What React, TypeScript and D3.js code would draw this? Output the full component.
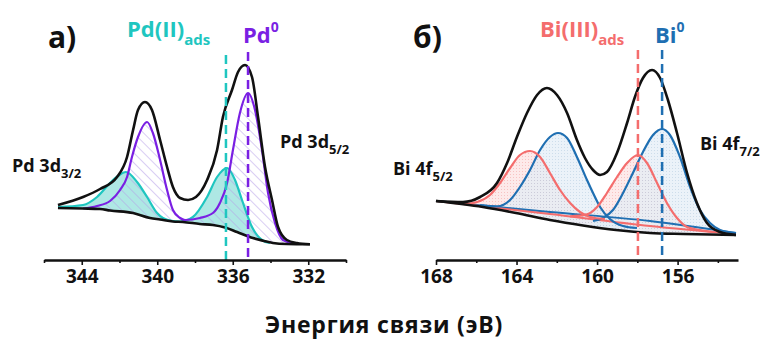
import React, { useEffect, useRef } from 'react';
import * as d3 from 'd3';

type P = [number, number]; // [binding energy eV, intensity a.u.]

// ---------- Panel а) Pd 3d ----------
const pdTicks = [346, 344, 342, 340, 338, 336, 334, 332, 330];
const pdBackground: P[] = [
  [345.26, 26], [343.93, 25.75], [343.03, 25.5], [342.5, 24.75], [341.28, 23.5], [340.38, 21],
  [339.85, 20.25], [339.17, 19.25], [338.64, 19], [337.74, 18], [337.05, 17.5], [336.41, 16.25],
  [335.77, 14], [334.93, 11], [334.4, 9.65], [333.87, 8.5], [333.13, 8], [331.91, 7.85],
];
const pdEnvelope: P[] = [
  [345.26, 27.5], [343.93, 31.5], [343.03, 35.5], [342.13, 41.5], [341.6, 51.5], [341.28, 65],
  [341.02, 75], [340.65, 79], [340.28, 75], [339.85, 60], [339.48, 46.5], [339.17, 36.5],
  [338.79, 31], [338.37, 30], [337.95, 31.5], [337.36, 40], [336.83, 55], [336.52, 71.5],
  [336.04, 85], [335.72, 94], [335.35, 97.5], [334.98, 91.5], [334.66, 71.5], [334.29, 46.5],
  [333.92, 30], [333.6, 16.5], [333.13, 10], [332.6, 8.5], [331.91, 7.85],
];
const pdMetal: P[] = [
  [343.93, 25.75], [343.19, 27], [342.5, 29.5], [341.97, 35], [341.6, 41.5], [341.34, 51.5],
  [341.02, 61.5], [340.54, 69], [340.23, 63.5], [339.85, 50], [339.48, 35], [339.17, 25],
  [338.79, 21], [338.53, 20], [337.74, 21], [337.05, 23.5], [336.68, 28.5], [336.3, 38.5],
  [335.99, 55], [335.62, 73.5], [335.19, 83.5], [334.82, 75], [334.45, 55], [334.13, 33.5],
  [333.76, 18.5], [333.34, 10], [332.86, 8.5],
];
const pdAds: P[] = [
  [345.26, 26.5], [343.93, 27.5], [343.19, 31.5], [342.5, 38.5], [342.08, 42], [341.66, 44],
  [341.07, 39], [340.54, 31.5], [340.01, 23.5], [339.7, 21], [339.17, 19.5], [338.79, 19.25],
  [338.11, 21.5], [337.36, 31.5], [336.83, 41.5], [336.3, 46], [335.88, 40], [335.51, 30],
  [334.98, 16.5], [334.45, 10], [334.03, 8.5],
];
const pdAdsPos = 336.36;
const pdMetalPos = 335.19;

// ---------- Panel б) Bi 4f ----------
const biTicks = [168, 166, 164, 162, 160, 158, 156, 154];
const biBackground: P[] = [
  [168, 29.5], [165.67, 26.5], [164.03, 23.5], [162.34, 20], [160.7, 17.25], [159.06, 15],
  [157.37, 13.5], [155.73, 13], [153.1, 12.5],
];
const biEnvelope: P[] = [
  [168, 29.5], [166.66, 29], [165.81, 31.5], [164.97, 38.5], [164.47, 48.5], [163.98, 61.5],
  [163.48, 73.5], [162.98, 82.5], [162.49, 86], [161.99, 82.5], [161.49, 73.5], [161, 60],
  [160.6, 51], [160.2, 45], [159.85, 42.5], [159.51, 44], [159.01, 53.5], [158.51, 68.5],
  [158.12, 81.5], [157.72, 91], [157.27, 95], [156.87, 91], [156.48, 80], [156.03, 63.5],
  [155.53, 43.5], [155.04, 28.5], [154.54, 18.5], [153.89, 14], [153.1, 12.5],
];
const biAdsLine: P[] = [[168, 29.5], [162.34, 23], [157.37, 17], [153.1, 13]];
const biMetalLine: P[] = [[168, 29.5], [162.34, 24], [157.37, 19.5], [153.1, 13.5]];
const biAds52: P[] = [
  [166.66, 28], [165.96, 29], [165.32, 32.5], [164.82, 38.5], [164.32, 46], [163.83, 52.5],
  [163.33, 54.5], [162.83, 51.5], [162.34, 43.5], [161.84, 35], [161.34, 28.5], [160.85, 24],
  [160.35, 21.5], [159.61, 20.5],
];
const biAds72: P[] = [
  [161.34, 21.8], [160.5, 22.8], [160, 26.5], [159.51, 33.5], [159.01, 41.5], [158.51, 48.5],
  [157.97, 52.5], [157.52, 48.5], [157.02, 38.5], [156.53, 28.5], [156.03, 21], [155.53, 16.5],
  [154.89, 15], [154.14, 14],
];
const biMetal52: P[] = [
  [165.81, 27.4], [164.97, 26.8], [164.32, 30], [163.83, 36.5], [163.33, 45], [162.83, 55],
  [162.34, 61.5], [161.94, 63.5], [161.49, 61], [161, 51.5], [160.5, 40], [160.2, 33.5],
  [159.85, 26.5], [159.36, 20.5], [158.71, 17], [158.02, 16],
];
const biMetal72: P[] = [
  [160.2, 19.5], [159.71, 21], [159.21, 25], [158.71, 33.5], [158.22, 43.5], [157.72, 54],
  [157.22, 62.5], [156.77, 65.5], [156.38, 62.5], [155.88, 51.5], [155.38, 36.5], [154.89, 25],
  [154.39, 18.5], [153.89, 15], [153.1, 13.5],
];
const biAdsPos = 157.97;
const biMetalPos = 156.77;

const FONT = "'Open Sans', 'DejaVu Sans', sans-serif";
const CYAN = '#1fc6c0';
const PURPLE = '#7a1fe3';
const RED = '#f46d6d';
const BLUE = '#1f6fb2';
const INK = '#111';

const AXIS_Y = 260;
const yScale = d3.scaleLinear().domain([0, 100]).range([AXIS_Y, 60]);
const xA = d3.scaleLinear().domain([346, 330]).range([44, 346]);
const xB = d3.scaleLinear().domain([168, 153]).range([436, 738]);

function interpAt(arr: P[], e: number): number {
  const s = [...arr].sort((a, b) => a[0] - b[0]);
  if (e <= s[0][0]) return s[0][1];
  if (e >= s[s.length - 1][0]) return s[s.length - 1][1];
  for (let i = 0; i < s.length - 1; i++) {
    if (e >= s[i][0] && e <= s[i + 1][0]) {
      const t = (e - s[i][0]) / (s[i + 1][0] - s[i][0]);
      return s[i][1] + t * (s[i + 1][1] - s[i][1]);
    }
  }
  return s[0][1];
}

function linePath(x: d3.ScaleLinear<number, number>, pts: P[]) {
  return d3.line<P>().x(d => x(d[0])).y(d => yScale(d[1])).curve(d3.curveMonotoneX)(pts) || '';
}
function areaPath(x: d3.ScaleLinear<number, number>, pts: P[], base: P[]) {
  return d3.area<P>()
    .x(d => x(d[0]))
    .y1(d => yScale(d[1]))
    .y0(d => yScale(Math.min(d[1], interpAt(base, d[0]))))
    .curve(d3.curveMonotoneX)(pts) || '';
}

function Axis({ x, ticks }: { x: d3.ScaleLinear<number, number>; ticks: number[] }) {
  const ref = useRef<SVGGElement>(null);
  useEffect(() => {
    if (!ref.current) return;
    const g = d3.select(ref.current);
    g.selectAll('*').remove();
    g.call(
      d3.axisBottom(x).tickValues(ticks).tickSize(5).tickSizeOuter(0).tickPadding(5)
        .tickFormat(d => ((d as number) % 4 === 0 ? String(d) : ''))
    );
    g.select('.domain').attr('stroke', INK).attr('stroke-width', 2.5);
    g.selectAll('.tick line').attr('stroke', INK).attr('stroke-width', 1.6)
      .attr('y2', (d: any) => (d % 4 === 0 ? 5 : 3));
    g.selectAll('.tick text').attr('fill', INK).attr('font-size', 19)
      .attr('font-weight', 700).attr('font-family', FONT);
  }, [x, ticks]);
  return <g ref={ref} transform={`translate(0,${AXIS_Y})`} />;
}

export default function App() {
  const t = { fontFamily: FONT, fontWeight: 700 } as const;
  const dash = (px: number, color: string, top: number, bottom: number) => (
    <line x1={px} x2={px} y1={top} y2={bottom} stroke={color} strokeWidth={2.5} strokeDasharray="9,5" />
  );
  return (
    <svg width={766} height={340} viewBox="0 0 766 340"
      style={{ position: 'absolute', left: 0, top: 0, background: '#fff' }}>
      <defs>
        <pattern id="hatch" width="7" height="7" patternUnits="userSpaceOnUse" patternTransform="rotate(-45)">
          <line x1="0" y1="0" x2="0" y2="7" stroke="#b39be8" strokeWidth="1" />
        </pattern>
        <pattern id="dotsRed" width="3" height="3" patternUnits="userSpaceOnUse">
          <rect width="3" height="3" fill="#fde6e6" />
          <rect width="1" height="1" fill="#f6b8b8" />
        </pattern>
        <pattern id="dotsBlue" width="3" height="3" patternUnits="userSpaceOnUse">
          <rect width="3" height="3" fill="#e2edf6" />
          <rect width="1" height="1" fill="#b8cfe3" />
        </pattern>
      </defs>

      {/* Panel а */}
      <path d={areaPath(xA, pdAds, pdBackground)} fill="#aee8e4" />
      <path d={areaPath(xA, pdMetal, pdBackground)} fill="url(#hatch)" />
      <path d={linePath(xA, pdAds)} fill="none" stroke={CYAN} strokeWidth={2.2} />
      <path d={linePath(xA, pdMetal)} fill="none" stroke={PURPLE} strokeWidth={2.2} />
      <path d={linePath(xA, pdBackground)} fill="none" stroke={INK} strokeWidth={2.6} />
      <path d={linePath(xA, pdEnvelope)} fill="none" stroke={INK} strokeWidth={2.6} />
      {dash(xA(pdAdsPos), CYAN, 55, AXIS_Y)}
      {dash(xA(pdMetalPos), PURPLE, 52, AXIS_Y)}
      <Axis x={xA} ticks={pdTicks} />

      <text x={48} y={48} fontSize={30} fill={INK} {...t}>а)</text>
      <text x={127} y={37} fontSize={22} fill={CYAN} {...t}>
        Pd(II)<tspan fontSize={15} dy={8}>ads</tspan>
      </text>
      <text x={243} y={43} fontSize={22} fill={PURPLE} {...t}>
        Pd<tspan fontSize={14} dy={-11}>0</tspan>
      </text>
      <text x={280} y={148} fontSize={18} fill={INK} {...t}>
        Pd 3d<tspan fontSize={13} dy={6}>5/2</tspan>
      </text>
      <text x={12} y={172} fontSize={18} fill={INK} {...t}>
        Pd 3d<tspan fontSize={13} dy={6}>3/2</tspan>
      </text>

      {/* Panel б */}
      <path d={areaPath(xB, biAds52, biBackground)} fill="url(#dotsRed)" fillOpacity={0.85} />
      <path d={areaPath(xB, biAds72, biBackground)} fill="url(#dotsRed)" fillOpacity={0.85} />
      <path d={areaPath(xB, biMetal52, biBackground)} fill="url(#dotsBlue)" fillOpacity={0.7} />
      <path d={areaPath(xB, biMetal72, biBackground)} fill="url(#dotsBlue)" fillOpacity={0.7} />
      <path d={linePath(xB, biMetalLine)} fill="none" stroke={BLUE} strokeWidth={2} />
      <path d={linePath(xB, biAdsLine)} fill="none" stroke={RED} strokeWidth={2} />
      <path d={linePath(xB, biMetal52)} fill="none" stroke={BLUE} strokeWidth={2.2} />
      <path d={linePath(xB, biMetal72)} fill="none" stroke={BLUE} strokeWidth={2.2} />
      <path d={linePath(xB, biAds52)} fill="none" stroke={RED} strokeWidth={2.2} />
      <path d={linePath(xB, biAds72)} fill="none" stroke={RED} strokeWidth={2.2} />
      <path d={linePath(xB, biBackground)} fill="none" stroke={INK} strokeWidth={2.6} />
      <path d={linePath(xB, biEnvelope)} fill="none" stroke={INK} strokeWidth={2.6} />
      {dash(xB(biAdsPos), RED, 50, AXIS_Y - 2)}
      {dash(xB(biMetalPos), BLUE, 50, AXIS_Y - 2)}
      <Axis x={xB} ticks={biTicks} />

      <text x={413} y={48} fontSize={30} fill={INK} {...t}>б)</text>
      <text x={540} y={37} fontSize={22} fill={RED} {...t}>
        Bi(III)<tspan fontSize={15} dy={8}>ads</tspan>
      </text>
      <text x={655} y={43} fontSize={22} fill={BLUE} {...t}>
        Bi<tspan fontSize={14} dy={-11}>0</tspan>
      </text>
      <text x={700} y={150} fontSize={18} fill={INK} {...t}>
        Bi 4f<tspan fontSize={13} dy={6}>7/2</tspan>
      </text>
      <text x={393} y={175} fontSize={18} fill={INK} {...t}>
        Bi 4f<tspan fontSize={13} dy={6}>5/2</tspan>
      </text>

      <text x={384} y={333} fontSize={23} letterSpacing={0.8} fill={INK} textAnchor="middle" {...t}>
        Энергия связи (эВ)
      </text>
    </svg>
  );
}
